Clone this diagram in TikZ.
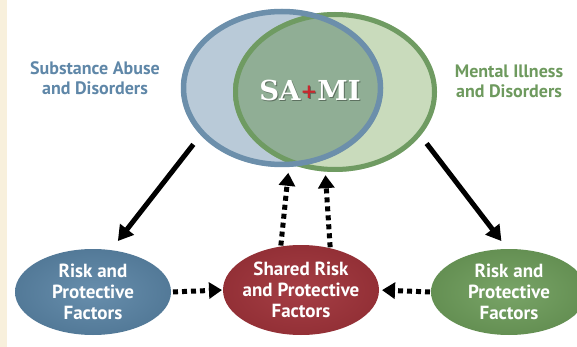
\documentclass[tikz,border=0pt]{standalone}
\usepackage{fontspec}
\setmainfont{Liberation Serif}
\newfontfamily\labelfont{PT Sans}
\newfontfamily\samifont{DejaVu Serif}
\usetikzlibrary{arrows.meta,positioning,shapes.geometric}

\definecolor{cream}{HTML}{F8F0DC}
\definecolor{saRim}{HTML}{6C8FAB}
\definecolor{saIn}{HTML}{B9CAD8}
\definecolor{saOut}{HTML}{8FA7BC}
\definecolor{miRim}{HTML}{6F9B62}
\definecolor{miIn}{HTML}{C9DBBC}
\definecolor{miOut}{HTML}{A2BB96}
\definecolor{bothIn}{HTML}{90AE95}
\definecolor{bothOut}{HTML}{6F8F78}
\definecolor{saText}{HTML}{5F87A8}
\definecolor{miText}{HTML}{6E9A5E}
\definecolor{saFill}{HTML}{5A84A5}
\definecolor{sharedFill}{HTML}{A0343B}
\definecolor{miFill}{HTML}{6D9C5A}
\definecolor{plusRed}{HTML}{C8282E}

\pgfdeclareradialshading{saShade}{\pgfpoint{0bp}{0bp}}{color(0bp)=(saIn); color(33bp)=(saIn); color(50bp)=(saOut)}
\pgfdeclareradialshading{miShade}{\pgfpoint{0bp}{0bp}}{color(0bp)=(miIn); color(33bp)=(miIn); color(50bp)=(miOut)}
\pgfdeclareradialshading{bothShade}{\pgfpoint{0bp}{0bp}}{color(0bp)=(bothIn); color(30bp)=(bothIn); color(50bp)=(bothOut)}

\tikzset{
  venn/.style={ellipse, inner sep=0pt, outer sep=0pt},
  factor/.style={ellipse, inner sep=0pt, outer sep=0pt, minimum width=156pt, minimum height=86pt},
  factortext/.style={text=white, align=center, font=\labelfont\bfseries\fontsize{19}{21}\selectfont},
  disorder/.style={align=center, font=\labelfont\bfseries\fontsize{18}{20}\selectfont},
  samitext/.style={font=\samifont\bfseries\fontsize{27.5}{30}\selectfont},
  solidarrow/.style={line width=5pt, -{Triangle[length=15pt,width=17pt]}},
  dasharrow/.style={line width=5pt, dash pattern=on 5pt off 4pt, -{Triangle[length=13pt,width=16pt]}}
}

\begin{document}
\begin{tikzpicture}[x=1pt,y=1pt]

\newcommand\samiword[1]{SA{\color{#1}\raisebox{2pt}{\fontsize{20}{20}\selectfont+}}MI}

\useasboundingbox (0,0) rectangle (577,-347);
\fill[white] (0,0) rectangle (577,-347);
\fill[cream] (0,0) rectangle (7,-347);

% the two disorders
\node[venn, shade, shading=saShade, minimum width=202pt, minimum height=158pt] (sa) at (282,-88) {};
\node[venn, shade, shading=miShade, minimum width=204pt, minimum height=160pt] (mi) at (335,-92) {};
\begin{scope}
  \clip (sa.center) ellipse [x radius=101, y radius=79];
  \shade[shading=bothShade] (mi.center) ellipse [x radius=102, y radius=80];
\end{scope}
\draw[miRim, line width=5pt] (mi.center) ellipse [x radius=99.5, y radius=77.5];
\draw[saRim, line width=5.5pt] (sa.center) ellipse [x radius=98.5, y radius=76.5];

\node[samitext, text=black, opacity=.35] (samishadow) at (311,-91) {\samiword{black}};
\node[samitext, text=white] (sami) at (310,-90) {\samiword{plusRed}};

\node[disorder, text=saText] (satxt) at (95,-78) {Substance Abuse\\and Disorders};
\node[disorder, text=miText] (mitxt) at (509,-81) {Mental Illness\\and Disorders};

% risk and protective factors
\node[factor, inner color=saFill!92!white, outer color=saFill!92!black] (risksa) at (93,-292) {};
\node[factor, inner color=sharedFill!95!white, outer color=sharedFill!92!black, minimum height=90pt] (shared) at (301,-290) {};
\node[factor, inner color=miFill!92!white, outer color=miFill!92!black] (riskmi) at (509,-292) {};

\node[factortext] (risksatxt) at (risksa) {Risk and\\Protective\\Factors};
\node[factortext] (sharedtxt) at (shared) {Shared Risk\\and Protective\\Factors};
\node[factortext] (riskmitxt) at (riskmi) {Risk and\\Protective\\Factors};

\draw[solidarrow, shorten <=12pt, shorten >=11.5pt] (sa.210) -- (risksa.67);
\draw[solidarrow, shorten <=10pt, shorten >=10pt] (mi.-27.4) -- (riskmi.92.5);

\draw[dasharrow, shorten <=1pt, shorten >=6pt] (shared.115.6) -- (sa.-85);
\draw[dasharrow, shorten <=1pt, shorten >=3.5pt] (shared.55.7) -- (mi.-97.5);
\draw[dasharrow, shorten <=2pt, shorten >=1pt] (risksa.east) -- (shared.west);
\draw[dasharrow, shorten <=1pt, shorten >=3pt] (riskmi.west) -- (shared.east);

\end{tikzpicture}
\end{document}
